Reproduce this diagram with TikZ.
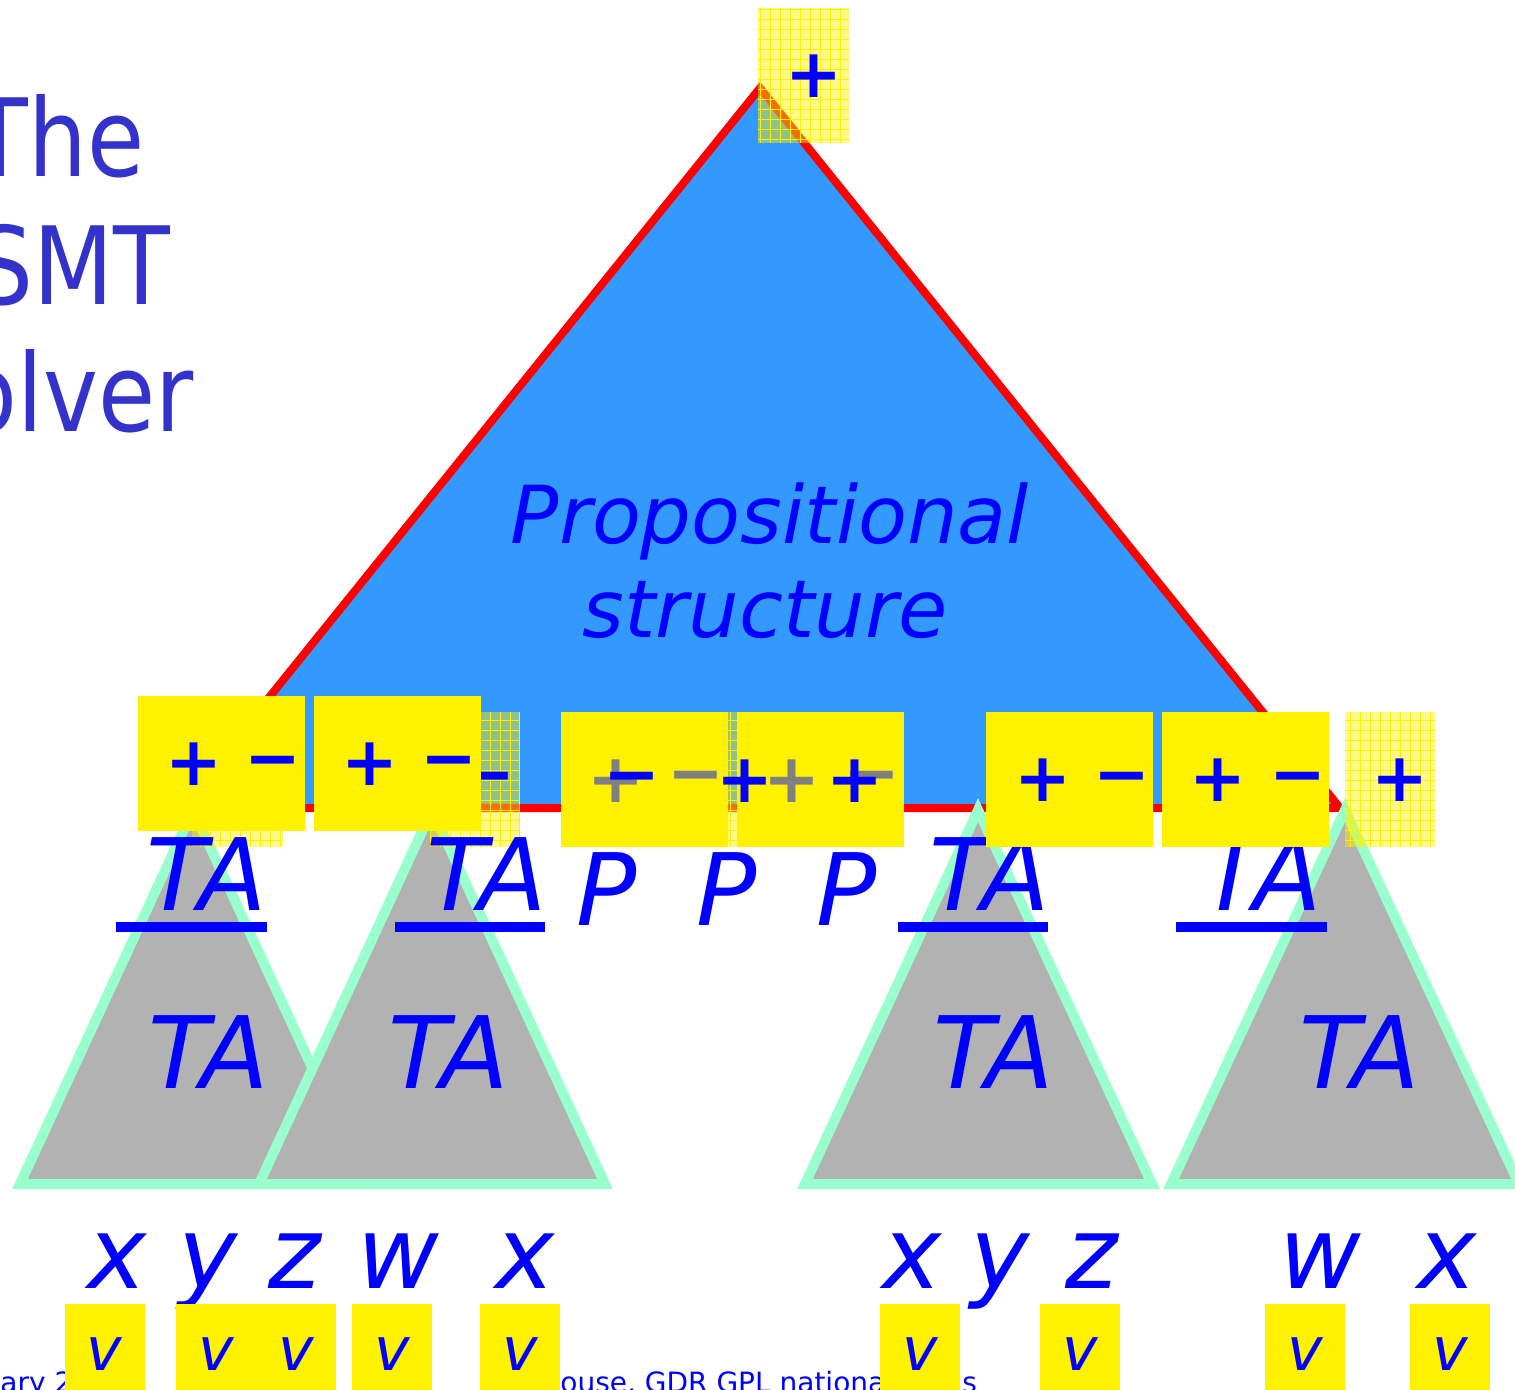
\documentclass[tikz,border=0pt]{standalone}
\usepackage{fontspec}
\setmainfont{DejaVu Sans}
\newfontfamily\headfont[FakeStretch=0.86]{DejaVu Sans}
\usetikzlibrary{positioning}
\definecolor{titleblue}{RGB}{51,51,204}
\definecolor{labelblue}{RGB}{0,0,255}
\definecolor{propfill}{RGB}{51,153,255}
\definecolor{tafill}{RGB}{178,178,178}
\definecolor{taedge}{RGB}{153,255,204}
\definecolor{signgrey}{RGB}{128,128,128}

\begin{document}
\begin{tikzpicture}[x=0.5pt,y=-0.5pt,
    headline/.style={font=\headfont\fontsize{54}{54}\selectfont,text=titleblue,anchor=base east,inner sep=0},
    propname/.style={font=\itshape\fontsize{40}{40}\selectfont,text=labelblue,anchor=base,inner sep=0},
    bigtri/.style={fill=propfill,draw=red,line width=4pt},
    tatri/.style={fill=tafill,draw=taedge,line width=5pt},
    talabel/.style={font=\itshape\fontsize{50}{50}\selectfont,text=labelblue,anchor=base,inner sep=0},
    uline/.style={draw=labelblue,line width=5pt},
    glassbox/.style={fill=yellow,fill opacity=0.45},
    glassgrid/.style={draw=yellow,line width=0.5pt,step=5pt},
    signbox/.style={fill=yellow,minimum width=83.5pt,minimum height=67.5pt,inner sep=0},
    signs/.style={font=\bfseries\fontsize{34}{34}\selectfont,text=labelblue,inner sep=0},
    greysigns/.style={signs,text=signgrey},
    varname/.style={font=\itshape\fontsize{50}{50}\selectfont,text=labelblue,anchor=base,inner sep=0},
    vbox/.style={fill=yellow,minimum width=40pt,minimum height=50pt,inner sep=0,
        font=\itshape\fontsize{30}{30}\selectfont,text=labelblue},
    footer/.style={font=\fontsize{14}{14}\selectfont,text=labelblue,anchor=base west,inner sep=0}
]
\useasboundingbox (0,0) rectangle (1515,1390);
\clip (0,0) rectangle (1515,1390);

% title, cut at the left edge
\node[headline] (the) at (145,177) {The};
\node[headline] (smt) at (171,305) {SMT};
\node[headline] (solver) at (194,432) {Solver};

% propositional part
\draw[bigtri] (760,88) -- (1340,808) -- (180,808) -- cycle;
\node[propname] (prop) at (770,543) {Propositional};
\node[propname] (struct) at (765,637) {structure};

% theory solvers
\draw[tatri] (193,810) -- (366,1184) -- (20,1184) -- cycle;
\draw[tatri] (432,810) -- (605,1184) -- (259,1184) -- cycle;
\draw[tatri] (978,810) -- (1152,1184) -- (805,1184) -- cycle;
\draw[tatri] (1345,810) -- (1519,1184) -- (1171,1184) -- cycle;
\node[talabel] (ta1) at (209,1088) {TA};
\node[talabel] (ta2) at (449,1088) {TA};
\node[talabel] (ta3) at (994,1088) {TA};
\node[talabel] (ta4) at (1360,1088) {TA};

% faded copies
\fill[glassbox] (758,8) rectangle (849,143);
\draw[glassgrid] (758,143) grid (849,8);
\fill[glassbox] (192,712) rectangle (283,847);
\draw[glassgrid] (192,847) grid (283,712);
\fill[glassbox] (430,712) rectangle (520,847);
\draw[glassgrid] (430,847) grid (520,712);
\fill[glassbox] (728,712) rectangle (737,847);
\draw[glassgrid] (728,847) grid (737,712);
\fill[glassbox] (1345,712) rectangle (1435,847);
\draw[glassgrid] (1345,847) grid (1435,712);

% atoms under the propositional structure
\node[talabel] (at1) at (207,910) {TA};
\node[talabel] (at2) at (487,910) {TA};
\node[talabel] (p1) at (607,925) {P};
\node[talabel] (p2) at (727,925) {P};
\node[talabel] (p3) at (847,925) {P};
\node[talabel] (at3) at (990,910) {TA};
\node[talabel] (at4) at (1262,910) {TA};
\draw[uline] (116,927) -- (267,927);
\draw[uline] (395,927) -- (545,927);
\draw[uline] (898,927) -- (1048,927);
\draw[uline] (1176,927) -- (1327,927);

% truth values
\node[signs] (top) at (814,76) {+};
\node[signs] (m0) at (487,785) {−};
\node[signbox] (box1) at (221.5,763) {};
\node[signbox] (box2) at (397.5,763) {};
\node[signbox] (box3) at (644.5,779.5) {};
\node[signbox] (box4) at (820.5,779.5) {};
\node[signbox] (box5) at (1069.5,779.5) {};
\node[signbox] (box6) at (1245.5,779.5) {};
\node[signs] (p1s) at (194,764) {+};
\node[signs] (m1s) at (273,769) {−};
\node[signs] (p2s) at (370,764) {+};
\node[signs] (m2s) at (449,769) {−};
\node[greysigns] (g1) at (616,781) {+};
\node[greysigns] (g2) at (696,784) {−};
\node[greysigns] (g3) at (792,781) {+};
\node[greysigns] (g4) at (872,784) {−};
\node[signs] (b1) at (632,785) {−};
\node[signs] (b2) at (745,781) {+};
\node[signs] (b3) at (855,781) {+};
\node[signs] (p5s) at (1043,780) {+};
\node[signs] (m5s) at (1122,785) {−};
\node[signs] (p6s) at (1218,780) {+};
\node[signs] (m6s) at (1298,785) {−};
\node[signs] (p7s) at (1400,780) {+};

% footer
\node[footer] (foot1) at (0,1392) {ary 2};
\node[footer] (foot2) at (560,1392) {ouse, GDR GPL nationa};
\node[footer] (foot3) at (962,1392) {s};

% variables and their values
\node[varname] (x1) at (117,1288) {x};
\node[varname] (y1) at (208,1288) {y};
\node[varname] (z1) at (295,1288) {z};
\node[varname] (w1) at (398,1288) {w};
\node[varname] (x2) at (525,1288) {x};
\node[varname] (x3) at (912,1288) {x};
\node[varname] (y3) at (1000,1288) {y};
\node[varname] (z3) at (1092,1288) {z};
\node[varname] (w4) at (1320,1288) {w};
\node[varname] (x4) at (1447,1288) {x};
\node[vbox] (v1) at (104.5,1354) {v};
\node[vbox] (v2) at (216,1354) {v};
\node[vbox] (v3) at (296,1354) {v};
\node[vbox] (v4) at (392,1354) {v};
\node[vbox] (v5) at (520,1354) {v};
\node[vbox] (v6) at (920,1354) {v};
\node[vbox] (v7) at (1080,1354) {v};
\node[vbox] (v8) at (1305,1354) {v};
\node[vbox] (v9) at (1450,1354) {v};
\end{tikzpicture}
\end{document}
